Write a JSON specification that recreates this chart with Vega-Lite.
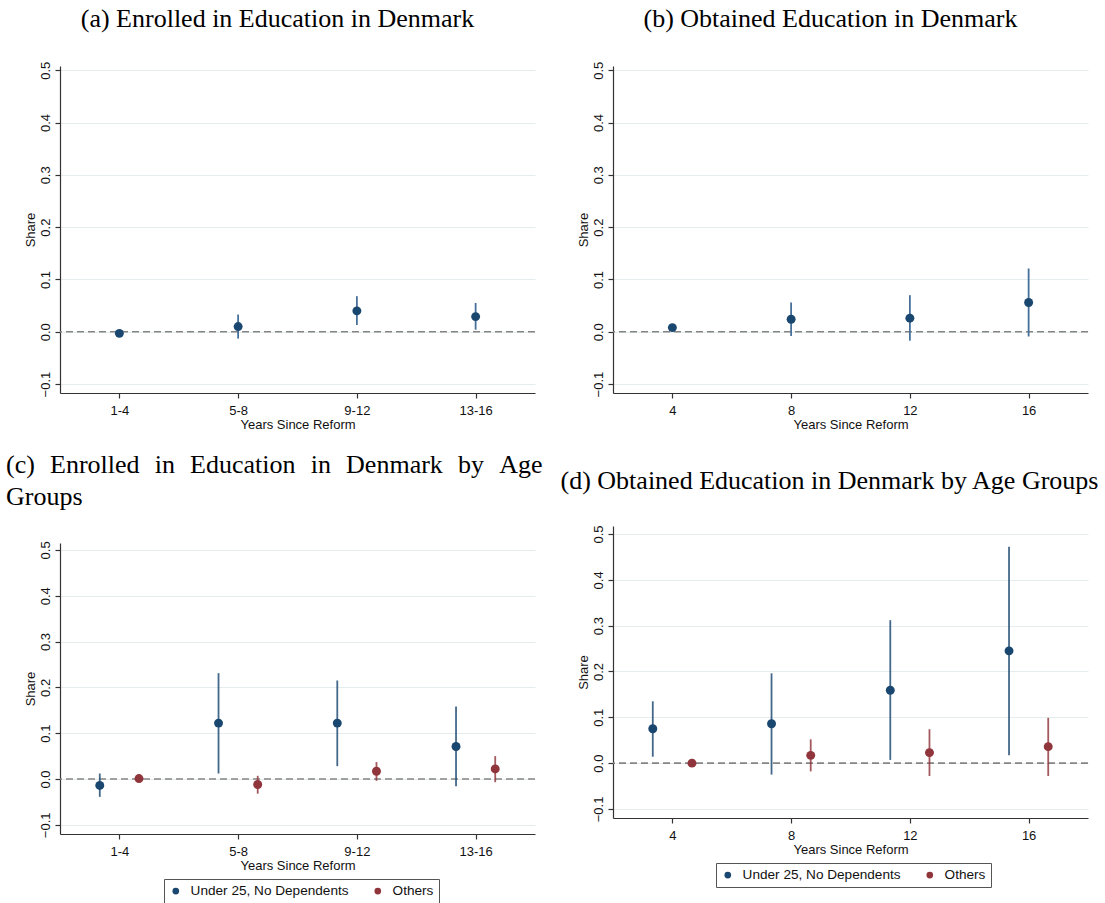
{
  "$schema": "https://vega.github.io/schema/vega-lite/v6.json",
  "background": "white",
  "padding": {"left": 6, "top": 6, "right": 5, "bottom": 5},
  "datasets": {
    "a": [
      {"x": 4, "est": -0.003, "lo": -0.005, "hi": -0.001},
      {"x": 8, "est": 0.010, "lo": -0.013, "hi": 0.033},
      {"x": 12, "est": 0.040, "lo": 0.013, "hi": 0.068},
      {"x": 16, "est": 0.029, "lo": 0.004, "hi": 0.055}
    ],
    "b": [
      {"x": 4, "est": 0.008, "lo": 0.004, "hi": 0.012},
      {"x": 8, "est": 0.024, "lo": -0.008, "hi": 0.056},
      {"x": 12, "est": 0.026, "lo": -0.017, "hi": 0.070},
      {"x": 16, "est": 0.056, "lo": -0.009, "hi": 0.121}
    ],
    "c": [
      {"x": 3.34, "group": "Under 25, No Dependents", "est": -0.014, "lo": -0.039, "hi": 0.012},
      {"x": 7.34, "group": "Under 25, No Dependents", "est": 0.122, "lo": 0.012, "hi": 0.231},
      {"x": 11.34, "group": "Under 25, No Dependents", "est": 0.122, "lo": 0.028, "hi": 0.215},
      {"x": 15.34, "group": "Under 25, No Dependents", "est": 0.071, "lo": -0.016, "hi": 0.158},
      {"x": 4.66, "group": "Others", "est": 0.001, "lo": -0.002, "hi": 0.004},
      {"x": 8.66, "group": "Others", "est": -0.012, "lo": -0.032, "hi": 0.007},
      {"x": 12.66, "group": "Others", "est": 0.017, "lo": -0.004, "hi": 0.037},
      {"x": 16.66, "group": "Others", "est": 0.022, "lo": -0.007, "hi": 0.050}
    ],
    "d": [
      {"x": 3.34, "group": "Under 25, No Dependents", "est": 0.075, "lo": 0.014, "hi": 0.135},
      {"x": 7.34, "group": "Under 25, No Dependents", "est": 0.086, "lo": -0.025, "hi": 0.196},
      {"x": 11.34, "group": "Under 25, No Dependents", "est": 0.159, "lo": 0.007, "hi": 0.312},
      {"x": 15.34, "group": "Under 25, No Dependents", "est": 0.245, "lo": 0.017, "hi": 0.472},
      {"x": 4.66, "group": "Others", "est": 0.000, "lo": -0.003, "hi": 0.003},
      {"x": 8.66, "group": "Others", "est": 0.017, "lo": -0.018, "hi": 0.052},
      {"x": 12.66, "group": "Others", "est": 0.023, "lo": -0.028, "hi": 0.074},
      {"x": 16.66, "group": "Others", "est": 0.036, "lo": -0.028, "hi": 0.099}
    ],
    "zero": [{"z": 0}]
  },
  "spacing": 16,
  "resolve": {"scale": {"color": "independent"}, "legend": {"color": "independent"}},
  "hconcat": [
    {
      "vconcat": [
        {
          "width": 475, "height": 327,
          "title": {"text": "(a) Enrolled in Education in Denmark", "dx": -20},
          "layer": [
            {"data": {"name": "zero"}, "mark": {"type": "rule", "color": "#858585", "strokeDash": [7, 4], "strokeWidth": 1.6},
             "encoding": {"y": {"field": "z", "type": "quantitative"}}},
            {"data": {"name": "a"}, "mark": {"type": "rule", "color": "#46709a", "strokeWidth": 1.8},
             "encoding": {"x": {"field": "x", "type": "quantitative"}, "y": {"field": "lo", "type": "quantitative"}, "y2": {"field": "hi"}}},
            {"data": {"name": "a"}, "mark": {"type": "point", "filled": true, "size": 80, "color": "#1a476f", "opacity": 1},
             "encoding": {
               "x": {"field": "x", "type": "quantitative", "scale": {"domain": [2, 18], "nice": false, "zero": false},
                     "axis": {"title": "Years Since Reform", "values": [4, 8, 12, 16], "labelExpr": "datum.value == 4 ? '1-4' : datum.value == 8 ? '5-8' : datum.value == 12 ? '9-12' : '13-16'"}},
               "y": {"field": "est", "type": "quantitative", "scale": {"domain": [-0.117, 0.508], "nice": false, "zero": false},
                     "axis": {"title": "Share", "values": [-0.1, 0, 0.1, 0.2, 0.3, 0.4, 0.5], "format": ".1f"}}
             }}
          ]
        },
        {
          "width": 475, "height": 291,
          "title": {"text": ["(c)\u00a0\u00a0\u200aEnrolled\u00a0\u00a0\u200ain\u00a0\u00a0\u200aEducation\u00a0\u00a0\u200ain\u00a0\u00a0\u200aDenmark\u00a0\u00a0\u200aby\u00a0\u00a0\u200aAge", "Groups"], "anchor": "start", "dx": -54, "lineHeight": 32, "offset": 31},
          "layer": [
            {"data": {"name": "zero"}, "mark": {"type": "rule", "color": "#858585", "strokeDash": [7, 4], "strokeWidth": 1.6},
             "encoding": {"y": {"field": "z", "type": "quantitative"}}},
            {"data": {"name": "c"}, "mark": {"type": "rule", "strokeWidth": 1.8, "opacity": 0.82},
             "encoding": {"x": {"field": "x", "type": "quantitative"}, "y": {"field": "lo", "type": "quantitative"}, "y2": {"field": "hi"},
                          "color": {"field": "group", "type": "nominal"}}},
            {"data": {"name": "c"}, "mark": {"type": "point", "filled": true, "size": 80, "opacity": 1},
             "encoding": {
               "x": {"field": "x", "type": "quantitative", "scale": {"domain": [2, 18], "nice": false, "zero": false},
                     "axis": {"title": "Years Since Reform", "values": [4, 8, 12, 16], "labelExpr": "datum.value == 4 ? '1-4' : datum.value == 8 ? '5-8' : datum.value == 12 ? '9-12' : '13-16'"}},
               "y": {"field": "est", "type": "quantitative", "scale": {"domain": [-0.12, 0.515], "nice": false, "zero": false},
                     "axis": {"title": "Share", "values": [-0.1, 0, 0.1, 0.2, 0.3, 0.4, 0.5], "format": ".1f"}},
               "color": {"field": "group", "type": "nominal", "scale": {"domain": ["Under 25, No Dependents", "Others"], "range": ["#1a476f", "#90353b"]},
                         "legend": {"title": null, "orient": "none", "legendX": 104, "legendY": 336}}
             }}
          ]
        }
      ],
      "spacing": 150,
      "bounds": "flush",
      "resolve": {"scale": {"color": "independent"}, "legend": {"color": "independent"}}
    },
    {
      "vconcat": [
        {
          "width": 475, "height": 327,
          "title": {"text": "(b) Obtained Education in Denmark", "dx": -20},
          "layer": [
            {"data": {"name": "zero"}, "mark": {"type": "rule", "color": "#858585", "strokeDash": [7, 4], "strokeWidth": 1.6},
             "encoding": {"y": {"field": "z", "type": "quantitative"}}},
            {"data": {"name": "b"}, "mark": {"type": "rule", "color": "#46709a", "strokeWidth": 1.8},
             "encoding": {"x": {"field": "x", "type": "quantitative"}, "y": {"field": "lo", "type": "quantitative"}, "y2": {"field": "hi"}}},
            {"data": {"name": "b"}, "mark": {"type": "point", "filled": true, "size": 80, "color": "#1a476f", "opacity": 1},
             "encoding": {
               "x": {"field": "x", "type": "quantitative", "scale": {"domain": [2, 18], "nice": false, "zero": false},
                     "axis": {"title": "Years Since Reform", "values": [4, 8, 12, 16], "format": "d"}},
               "y": {"field": "est", "type": "quantitative", "scale": {"domain": [-0.117, 0.508], "nice": false, "zero": false},
                     "axis": {"title": "Share", "values": [-0.1, 0, 0.1, 0.2, 0.3, 0.4, 0.5], "format": ".1f"}}
             }}
          ]
        },
        {
          "width": 475, "height": 292,
          "title": {"text": "(d) Obtained Education in Denmark by Age Groups", "dx": -21, "offset": 31},
          "layer": [
            {"data": {"name": "zero"}, "mark": {"type": "rule", "color": "#858585", "strokeDash": [7, 4], "strokeWidth": 1.6},
             "encoding": {"y": {"field": "z", "type": "quantitative"}}},
            {"data": {"name": "d"}, "mark": {"type": "rule", "strokeWidth": 1.8, "opacity": 0.82},
             "encoding": {"x": {"field": "x", "type": "quantitative"}, "y": {"field": "lo", "type": "quantitative"}, "y2": {"field": "hi"},
                          "color": {"field": "group", "type": "nominal"}}},
            {"data": {"name": "d"}, "mark": {"type": "point", "filled": true, "size": 80, "opacity": 1},
             "encoding": {
               "x": {"field": "x", "type": "quantitative", "scale": {"domain": [2, 18], "nice": false, "zero": false},
                     "axis": {"title": "Years Since Reform", "values": [4, 8, 12, 16], "format": "d"}},
               "y": {"field": "est", "type": "quantitative", "scale": {"domain": [-0.1197, 0.5175], "nice": false, "zero": false},
                     "axis": {"title": "Share", "values": [-0.1, 0, 0.1, 0.2, 0.3, 0.4, 0.5], "format": ".1f"}},
               "color": {"field": "group", "type": "nominal", "scale": {"domain": ["Under 25, No Dependents", "Others"], "range": ["#1a476f", "#90353b"]},
                         "legend": {"title": null, "orient": "none", "legendX": 103, "legendY": 337}}
             }}
          ]
        }
      ],
      "spacing": 133,
      "bounds": "flush",
      "resolve": {"scale": {"color": "independent"}, "legend": {"color": "independent"}}
    }
  ],
  "config": {
    "view": {"stroke": null},
    "title": {"font": "Liberation Serif", "fontSize": 26, "fontWeight": "normal", "color": "#000", "anchor": "middle", "frame": "group", "offset": 29},
    "axis": {
      "domainColor": "#333", "tickColor": "#333", "tickSize": 5, "domainWidth": 1.2, "tickWidth": 1.2,
      "labelFont": "Liberation Sans", "labelFontSize": 13, "labelColor": "#111",
      "titleFont": "Liberation Sans", "titleFontSize": 13, "titleFontWeight": "normal", "titleColor": "#111",
      "labelFlush": false, "labelOverlap": false
    },
    "axisX": {"grid": false, "labelAngle": 0, "labelPadding": 6, "titlePadding": 1},
    "axisY": {"grid": true, "gridColor": "#e4ecee", "gridWidth": 1, "labelAngle": 270, "labelAlign": "center", "labelBaseline": "bottom", "labelPadding": 3, "titlePadding": 2},
    "legend": {"direction": "horizontal", "strokeColor": "#555", "padding": 5, "symbolType": "circle", "symbolSize": 45, "symbolOpacity": 1,
               "labelFont": "Liberation Sans", "labelFontSize": 13.6, "labelColor": "#111", "columnPadding": 22, "labelOffset": 8, "symbolStrokeWidth": 0}
  }
}
